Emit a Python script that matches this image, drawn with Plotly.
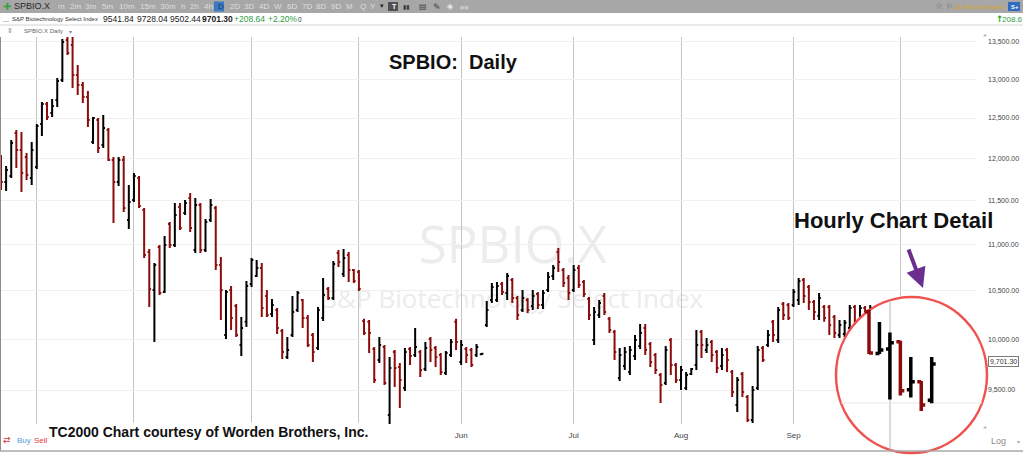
import math
import plotly.graph_objects as go

# ---------------- data ----------------
month_ticks = [7, 26, 49, 70, 90, 112, 133, 155, 176]
month_labels = ["", "", "", "May", "Jun", "Jul", "Aug", "Sep", "Oct"]
price_ticks = [9500, 10000, 10500, 11000, 11500, 12000, 12500, 13000, 13500]
price_labels = ["9,500.00", "10,000.00", "10,500.00", "11,000.00", "11,500.00",
                "12,000.00", "12,500.00", "13,000.00", "13,500.00"]

daily_open = [
    11981, 11718, 11790, 12312, 12102, 12017, 11766, 11897, 12424, 12677,
    12563, 12728, 12988, 13523, 13455, 13054, 12923, 12767, 12200, 12474,
    12164, 12349, 11981, 11718, 11981, 11278, 11507, 11766, 11392, 10920,
    10509, 10975, 10488, 11233, 10998, 11427, 11358, 11530, 10942, 11450,
    10942, 11278, 11415, 10777, 10042, 10509, 10341, 9941, 10176, 10572,
    10658, 10745, 10445, 10258, 10299, 10083, 9822, 10042, 10299, 10403,
    10217, 10042, 9911, 10217, 10520, 10424, 10909, 10680, 10887, 10723,
    10701, 10186, 10176, 9901, 9792, 9921, 9263, 9871, 9724, 9519,
    9901, 9842, 9871, 9704, 10001, 9911, 9842, 9665, 9842, 10176,
    9772, 9901, 9891, 9842, 9848, 10145, 10403, 10403, 10572, 10477,
    10615, 10424, 10299, 10403, 10341, 10466, 10351, 10509, 10658, 10920,
    10723, 10637, 10509, 10745, 10594, 10414, 9991, 10248, 10445, 10207,
    10073, 9616, 9733, 9674, 9832, 9931, 10114, 9951, 9842, 9645,
    9567, 9991, 9743, 9596, 9519, 9655, 9743, 10073, 9891, 9971,
    9871, 9733, 9891, 9674, 9358, 9655, 9434, 9217, 9519, 9911,
    9941, 10176, 9991, 10362, 10351, 10351, 10403, 10615, 10541, 10382,
    10238, 10330, 10330, 10227, 10042, 10052, 10114, 10330, 10124, 10320,
    10093]
daily_high = [
    12041, 11909, 12225, 12349, 12324, 12066, 12200, 12424, 12703, 12703,
    12741, 13014, 13537, 13564, 13564, 13187, 12962, 12845, 12512, 12500,
    12538, 12374, 12017, 12017, 12029, 11683, 11825, 11790, 11415, 10953,
    10799, 10998, 11098, 11255, 11473, 11473, 11507, 11589, 11530, 11473,
    11290, 11519, 11438, 10865, 10509, 10551, 10362, 10227, 10604, 10854,
    10832, 10799, 10509, 10414, 10320, 10104, 10021, 10445, 10498, 10414,
    10248, 10062, 10330, 10637, 10541, 10821, 10942, 10953, 10920, 10734,
    10723, 10207, 10196, 9921, 10021, 9941, 9822, 9891, 9763, 9911,
    9921, 10114, 9891, 9971, 10021, 9931, 9861, 9881, 10001, 10207,
    9991, 9921, 9911, 9951, 9861, 10392, 10583, 10594, 10594, 10690,
    10637, 10445, 10509, 10424, 10509, 10488, 10509, 10701, 10777, 10964,
    10745, 10669, 10777, 10777, 10615, 10434, 10330, 10403, 10477, 10227,
    10093, 9911, 9921, 9931, 10042, 10155, 10155, 9971, 9861, 9665,
    9931, 10011, 9763, 9733, 9674, 9714, 10093, 10093, 10011, 9991,
    9891, 9911, 9911, 9694, 9625, 9674, 9453, 9538, 9931, 9931,
    10093, 10196, 10330, 10382, 10372, 10520, 10637, 10637, 10562, 10403,
    10477, 10351, 10351, 10248, 10196, 10196, 10351, 10351, 10351, 10341,
    10351]
daily_low = [
    11624, 11612, 11766, 11885, 11601, 11742, 11683, 11873, 12275, 12474,
    12512, 12639, 12962, 13320, 12884, 12793, 12690, 12387, 12176, 12066,
    12127, 11969, 11244, 11671, 11369, 11176, 11484, 11415, 10854, 10330,
    9971, 10456, 10477, 10964, 10975, 11165, 11335, 11143, 10909, 10909,
    10920, 11256, 10723, 10196, 10001, 10093, 10021, 9832, 10124, 10541,
    10647, 10227, 10227, 10227, 10052, 9802, 9802, 10021, 10278, 10114,
    9921, 9772, 9891, 10186, 10403, 10403, 10756, 10647, 10594, 10583,
    10498, 10042, 9861, 9567, 9763, 9548, 9171, 9529, 9329, 9491,
    9743, 9822, 9625, 9684, 9772, 9724, 9645, 9645, 9822, 9891,
    9743, 9763, 9724, 9822, 9842, 10124, 10372, 10382, 10456, 10403,
    10372, 10196, 10278, 10268, 10299, 10310, 10310, 10488, 10615, 10701,
    10541, 10403, 10488, 10530, 10434, 10196, 9941, 10217, 10248, 10062,
    9792, 9587, 9694, 9645, 9792, 9901, 9842, 9724, 9655, 9377,
    9548, 9645, 9567, 9500, 9500, 9645, 9694, 9812, 9861, 9772,
    9665, 9694, 9674, 9434, 9291, 9434, 9199, 9189, 9500, 9772,
    9921, 9971, 9961, 10196, 10196, 10330, 10351, 10372, 10299, 10196,
    10196, 10176, 10042, 10011, 10011, 10021, 10073, 10124, 10093, 10073,
    10042]
daily_close = [
    11718, 11861, 12188, 12102, 11825, 11802, 12102, 12399, 12677, 12512,
    12652, 12975, 13496, 13347, 13054, 12923, 12767, 12474, 12500, 12127,
    12374, 11981, 11718, 11981, 11415, 11484, 11790, 11438, 10887, 10520,
    10777, 10477, 10998, 10998, 11335, 11188, 11473, 11188, 11450, 10942,
    11256, 11450, 10777, 10509, 10488, 10217, 10042, 10114, 10551, 10832,
    10745, 10320, 10248, 10351, 10114, 9871, 9891, 10278, 10477, 10217,
    9941, 9871, 10299, 10456, 10424, 10788, 10810, 10854, 10723, 10604,
    10520, 10062, 10062, 9596, 9941, 9567, 9714, 9714, 9596, 9871,
    9832, 9921, 9694, 9911, 9891, 9822, 9674, 9861, 9971, 9971,
    9941, 9842, 9743, 9921, 9855, 10299, 10541, 10551, 10488, 10658,
    10424, 10248, 10424, 10299, 10445, 10351, 10477, 10647, 10745, 10810,
    10583, 10477, 10723, 10562, 10466, 10248, 10278, 10372, 10278, 10093,
    9871, 9842, 9871, 9891, 9991, 10062, 9891, 9772, 9694, 9548,
    9891, 9743, 9596, 9694, 9645, 9704, 9941, 9941, 9941, 9842,
    9714, 9842, 9792, 9481, 9596, 9481, 9217, 9500, 9891, 9792,
    10042, 10042, 10299, 10248, 10217, 10488, 10604, 10445, 10382, 10278,
    10424, 10217, 10145, 10062, 10145, 10166, 10320, 10176, 10320, 10114,
    10320]

hourly_open = [10278, 9866, 9911, 9981, 9510, 9587, 9405]
hourly_high = [10299, 10176, 10073, 9991, 9832, 9596, 9832]
hourly_low = [9861, 9861, 9414, 9453, 9434, 9301, 9377]
hourly_close = [9871, 9901, 9971, 9500, 9587, 9358, 9763]

quote_name = "S&P Biotechnology Select Index"
quote_values = ["9541.84", "9728.04", "9502.44", "9701.30"]
quote_changes = ["+208.64", "+2.20%"]
last_price_label = "9,701.30"
intervals = ["m", "2m", "3m", "5m", "10m", "15m", "30m", "h", "2h", "4h", "D",
             "2D", "3D", "4D", "W", "6D", "7D", "8D", "9D", "M", "Q", "Y"]

# ---------------- layout geometry (pixels) ----------------
W, H, TOP = 1023, 455, 37
PLOT_RIGHT, PLOT_BOTTOM = 975, 424
BAR_X0, BAR_DX = 1.0, 5.113
HOUR_X0, HOUR_DX = 869.0, 10.45
PX_PER_DEC, REF_PX, REF_PRICE = 2282.0, 390.0, 9500.0
# hourly panel: linear price scale (price at bottom edge, price per pixel)
HOUR_BASE, HOUR_PER_PX = 8867.0, 9.844
interval_x = [56, 68, 83, 100, 117, 138, 158, 179, 188, 202, 216,
              228, 242, 257, 272, 285, 300, 314, 329, 344, 358, 368]
quote_x = [101, 135, 168, 200]
change_x = [232, 266]


def PX(px):
    return px / W


def PY(py):
    return (H - py) / (H - TOP)


def log_at(py):
    return math.log10(REF_PRICE) + (REF_PX - py) / PX_PER_DEC


def X2(px):
    return (px - HOUR_X0) / HOUR_DX


def Y2(py):
    return HOUR_BASE + (H - py) * HOUR_PER_PX


FONT = "Liberation Sans"
RED = "#8c0c0c"

fig = go.Figure()
fig.add_trace(go.Ohlc(
    x=list(range(len(daily_open))), open=daily_open, high=daily_high,
    low=daily_low, close=daily_close, tickwidth=0.35,
    increasing=dict(line=dict(color="#000000", width=2)),
    decreasing=dict(line=dict(color=RED, width=2)),
    xaxis="x", yaxis="y", hoverinfo="skip"))
fig.add_trace(go.Ohlc(
    x=list(range(len(hourly_open))), open=hourly_open, high=hourly_high,
    low=hourly_low, close=hourly_close, tickwidth=0.38,
    increasing=dict(line=dict(color="#000000", width=3.5)),
    decreasing=dict(line=dict(color=RED, width=3.5)),
    xaxis="x2", yaxis="y2", hoverinfo="skip"))

shapes = []
# watermark (below everything)
shapes.append(dict(type="rect", xref="paper", yref="paper", layer="below",
                   x0=PX(380), x1=PX(646), y0=PY(275), y1=PY(219),
                   line=dict(width=0), fillcolor="rgba(0,0,0,0)",
                   label=dict(text="SPBIO.X", textposition="middle center",
                              font=dict(family="Open Sans", size=51, color="#ececec"))))
shapes.append(dict(type="rect", xref="paper", yref="paper", layer="below",
                   x0=PX(300), x1=PX(726), y0=PY(316), y1=PY(284),
                   line=dict(width=0), fillcolor="rgba(0,0,0,0)",
                   label=dict(text=quote_name, textposition="middle center",
                              font=dict(family="Open Sans", size=26, color="#ececec"))))
# detail circle (in overlay subplot, above daily bars, below hourly bars)
shapes.append(dict(type="circle", xref="x2", yref="y2", layer="below",
                   x0=X2(836), x1=X2(987), y0=Y2(453), y1=Y2(297),
                   line=dict(color="#ef5350", width=2.5), fillcolor="white"))
shapes.append(dict(type="line", xref="x2", yref="y2", layer="below",
                   x0=X2(890), x1=X2(890), y0=Y2(450), y1=Y2(300),
                   line=dict(color="#b5b5b5", width=1)))
shapes.append(dict(type="line", xref="x2", yref="y2", layer="below",
                   x0=X2(841), x1=X2(982), y0=Y2(403), y1=Y2(403),
                   line=dict(color="#e6e6e6", width=1)))
# header
shapes.append(dict(type="rect", xref="paper", yref="paper", layer="above",
                   x0=0, x1=1, y0=PY(13), y1=PY(0), line=dict(width=0),
                   fillcolor="#a7a7a7"))
shapes.append(dict(type="rect", xref="paper", yref="paper", layer="above",
                   x0=PX(214), x1=PX(224), y0=PY(11.5), y1=PY(1.5), line=dict(width=0),
                   fillcolor="#3b78c3"))
shapes.append(dict(type="rect", xref="paper", yref="paper", layer="above",
                   x0=PX(388), x1=PX(398), y0=PY(11), y1=PY(2), line=dict(width=0),
                   fillcolor="#505050"))
shapes.append(dict(type="rect", xref="paper", yref="paper", layer="above",
                   x0=PX(1008), x1=PX(1020), y0=PY(11), y1=PY(2), line=dict(width=0),
                   fillcolor="#2f6cc0"))
shapes.append(dict(type="line", xref="paper", yref="paper", layer="above",
                   x0=0, x1=1, y0=PY(25), y1=PY(25), line=dict(color="#d4d4d4", width=1)))
shapes.append(dict(type="line", xref="paper", yref="paper", layer="above",
                   x0=PX(0.5), x1=PX(0.5), y0=PY(451), y1=PY(37),
                   line=dict(color="#8e8e8e", width=1)))
shapes.append(dict(type="line", xref="paper", yref="paper", layer="above",
                   x0=0, x1=1, y0=PY(451), y1=PY(451), line=dict(color="#a9a9a9", width=1.5)))

ann = []


def txt(text, x, y, size, color, anchor="left", bold=False, family=FONT, **kw):
    t = "<b>%s</b>" % text if bold else text
    d = dict(text=t, x=PX(x), y=PY(y), xref="paper", yref="paper",
             xanchor=anchor, yanchor="middle", showarrow=False,
             font=dict(family=family, size=size, color=color))
    d.update(kw)
    ann.append(d)


# header line 1
txt("✚", 1, 6.5, 10, "#3ca142", family="DejaVu Sans")
txt("SPBIO.X", 12, 6.5, 9, "#2a2a2a")
for lab, xx in zip(intervals, interval_x):
    txt(lab, xx, 6.8, 8, "#1f3d66" if lab == "D" else "#dedede")
txt("▾", 378, 6.5, 7, "#222222", family="DejaVu Sans")
txt("T", 390, 6.8, 7, "#ffffff", bold=True)
txt("▮▮", 401, 6.8, 6, "#3a3a3a", family="DejaVu Sans")
txt("▤", 417, 6.8, 8, "#3a3a3a", family="DejaVu Sans")
txt("✎", 431, 6.8, 9, "#3a3a3a", family="DejaVu Sans")
txt("◈", 445, 6.8, 8, "#e8e8e8", family="DejaVu Sans")
txt("●●", 458, 6.8, 5, "#c8c8c8", family="DejaVu Sans")
txt("☆", 933, 6.5, 9, "#666666", family="DejaVu Sans")
txt("⚐", 944, 6.5, 8, "#666666", family="DejaVu Sans")
txt("15-Minute Delayed", 952, 6.8, 6, "#d9a21b")
txt("S+", 1009, 6.8, 6, "#ffffff", bold=True)
# header line 2
txt("...", 1, 19, 7, "#333333")
txt(quote_name, 10, 19, 6, "#333333")
for v, xx in zip(quote_values, quote_x):
    txt(v, xx, 19, 8.5, "#222222", bold=(v == quote_values[-1]))
for v, xx in zip(quote_changes, change_x):
    txt(v, xx, 19, 8.5, "#2e9e3e")
txt("0", 296, 20, 6.5, "#333333")
txt("↑", 994, 19, 9, "#19a219", bold=True, family="DejaVu Sans")
txt(quote_changes[0][1:6], 1000, 19, 8, "#2e9e3e")
# header line 3
txt("⇕", 5, 31, 7, "#888888", family="DejaVu Sans")
txt("SPBIO.X Daily", 22, 31, 6, "#666666")
txt("▾", 67, 31, 6, "#888888", family="DejaVu Sans")

# chart titles
txt("SPBIO:\u00a0 Daily", 453.5, 61.5, 20, "#111111", anchor="center", bold=True)
txt("Hourly Chart Detail", 893, 221, 22, "#111111", anchor="center", bold=True)
txt("TC2000 Chart courtesy of Worden Brothers, Inc.", 47, 432, 14,
    "#111111", bold=True, bgcolor="#ffffff", borderpad=1)
txt("⇄", 1, 440, 9, "#d33b3b", family="DejaVu Sans")
txt("Buy", 15, 440, 8, "#4d9de0")
txt("Sell", 32, 440, 8, "#e53935")

# price axis extras
txt("◂", 981, 34, 6, "#b0b0b0", family="DejaVu Sans")
txt("◂", 981, 426, 6, "#b0b0b0", family="DejaVu Sans")
txt("Log", 989, 441, 9, "#8a8a8a")
txt("▾", 1015, 441, 6, "#aaaaaa", family="DejaVu Sans")
txt(last_price_label, 988, 361, 7, "#333333", anchor="left",
    bgcolor="#ffffff", bordercolor="#7a7a7a", borderwidth=1, borderpad=1)

# purple arrow
ann.append(dict(x=PX(923), y=PY(288), xref="paper", yref="paper", text="",
                showarrow=True, ax=-15, ay=-40, arrowhead=2, arrowsize=1,
                arrowwidth=4, arrowcolor="#6b2f8f"))

fig.update_layout(
    width=W, height=H, margin=dict(l=0, r=0, t=TOP, b=0),
    paper_bgcolor="white", plot_bgcolor="rgba(0,0,0,0)", showlegend=False,
    font=dict(family=FONT, color="#444444"),
    xaxis=dict(domain=[0, PLOT_RIGHT / W],
               range=[(0 - BAR_X0) / BAR_DX, (PLOT_RIGHT - BAR_X0) / BAR_DX],
               tickmode="array", tickvals=month_ticks, ticktext=month_labels,
               showgrid=True, gridcolor="#c4c4c4", gridwidth=1, zeroline=False,
               showline=False, ticks="", ticklabelstandoff=5,
               tickfont=dict(size=8, color="#444444"),
               rangeslider=dict(visible=False), automargin=False, anchor="y"),
    yaxis=dict(domain=[(H - PLOT_BOTTOM) / (H - TOP), 1], type="log",
               range=[log_at(PLOT_BOTTOM), log_at(TOP)], side="right",
               tickmode="array", tickvals=price_ticks, ticktext=price_labels,
               showgrid=True, gridcolor="#efefef", zeroline=False, showline=False,
               ticks="", ticklabelstandoff=12, tickfont=dict(size=7, color="#444444"),
               automargin=False, anchor="x"),
    xaxis2=dict(domain=[0, 1], range=[(0 - HOUR_X0) / HOUR_DX, (W - HOUR_X0) / HOUR_DX],
                visible=False, showgrid=False, zeroline=False, anchor="y2",
                rangeslider=dict(visible=False)),
    yaxis2=dict(domain=[0, 1], range=[HOUR_BASE, HOUR_BASE + (H - TOP) * HOUR_PER_PX],
                visible=False, showgrid=False, zeroline=False, anchor="x2"),
    shapes=shapes, annotations=ann,
)

fig.write_html("out.html", config={"displayModeBar": False},
               post_script="document.body.style.margin='0px';"
                           "document.body.style.overflow='hidden';")
